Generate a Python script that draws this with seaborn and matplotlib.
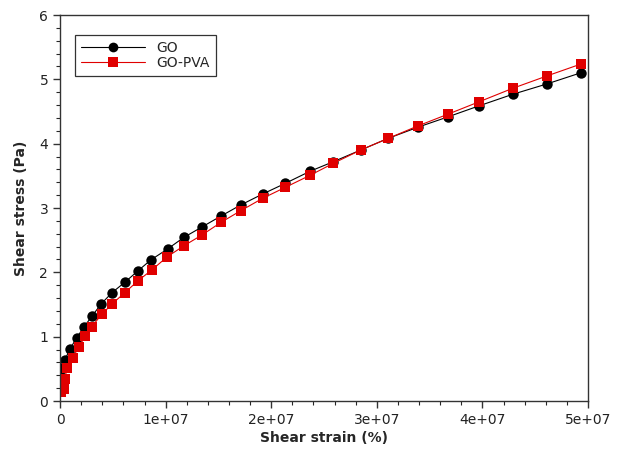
import numpy as np
import pandas as pd
import matplotlib
matplotlib.use("Agg")
import matplotlib.pyplot as plt
import seaborn as sns
from matplotlib.ticker import AutoMinorLocator, MultipleLocator

# -----------------------------
# Data (strain in %, stress in Pa)
# -----------------------------
go_strain = [0.09e6, 0.30e6, 0.445e6, 0.97e6, 1.59e6, 2.30e6, 3.03e6, 3.91e6, 4.92e6,
             6.13e6, 7.36e6, 8.59e6, 10.18e6, 11.74e6, 13.48e6, 15.25e6, 17.11e6,
             19.19e6, 21.34e6, 23.67e6, 25.88e6, 28.48e6, 31.09e6, 33.87e6, 36.77e6,
             39.71e6, 42.87e6, 46.09e6, 49.34e6]
go_stress = [0.38, 0.52, 0.637, 0.816, 0.987, 1.158, 1.321, 1.512, 1.684, 1.845, 2.021,
             2.192, 2.363, 2.545, 2.709, 2.876, 3.047, 3.218, 3.384, 3.571, 3.720,
             3.902, 4.084, 4.255, 4.419, 4.590, 4.768, 4.928, 5.103]

pva_strain = [0.09e6, 0.35e6, 0.45e6, 0.66e6, 1.20e6, 1.77e6, 2.40e6, 3.00e6, 3.95e6,
              4.95e6, 6.13e6, 7.39e6, 8.68e6, 10.16e6, 11.74e6, 13.48e6, 15.25e6,
              17.11e6, 19.19e6, 21.34e6, 23.67e6, 25.88e6, 28.48e6, 31.09e6, 33.87e6,
              36.77e6, 39.71e6, 42.87e6, 46.09e6, 49.34e6]
pva_stress = [0.14, 0.18, 0.34, 0.51, 0.67, 0.84, 1.01, 1.155, 1.348, 1.512, 1.684,
              1.870, 2.036, 2.243, 2.414, 2.585, 2.778, 2.958, 3.151, 3.322, 3.508,
              3.695, 3.902, 4.084, 4.275, 4.461, 4.653, 4.861, 5.052, 5.239]

df = pd.concat([
    pd.DataFrame({"strain": go_strain, "stress": go_stress, "sample": "GO"}),
    pd.DataFrame({"strain": pva_strain, "stress": pva_stress, "sample": "GO-PVA"}),
])

# -----------------------------
# Plot
# -----------------------------
sns.set_style("ticks")
plt.rcParams["font.family"] = ["DejaVu Sans"]

fig = plt.figure(figsize=(6.19, 4.62), dpi=100)
ax = fig.add_axes([0.097, 0.132, 0.853, 0.8355])

sns.lineplot(data=df, x="strain", y="stress", hue="sample", style="sample",
             palette={"GO": "black", "GO-PVA": "#e00000"},
             markers={"GO": "o", "GO-PVA": "s"}, dashes=False,
             markersize=7.5, markeredgewidth=0, linewidth=0.8,
             sort=False, estimator=None, ax=ax)

ax.set_xlim(0, 5e7)
ax.set_ylim(0, 6)
ax.xaxis.set_major_locator(MultipleLocator(1e7))
ax.yaxis.set_major_locator(MultipleLocator(1))
ax.xaxis.set_minor_locator(AutoMinorLocator(5))
ax.yaxis.set_minor_locator(AutoMinorLocator(5))
ax.set_xticks([0, 1e7, 2e7, 3e7, 4e7, 5e7])
ax.set_xticklabels(["0", "1e+07", "2e+07", "3e+07", "4e+07", "5e+07"])
ax.tick_params(which="major", direction="out", length=5, width=1, labelsize=10,
               colors="#333333", labelcolor="#222222", top=False, right=False)
ax.tick_params(which="minor", direction="out", length=3, width=0.8, top=False, right=False)
for s in ax.spines.values():
    s.set_linewidth(1)
    s.set_color("#333333")

ax.set_xlabel("Shear strain (%)", fontsize=10, fontweight="bold", labelpad=3)
ax.set_ylabel("Shear stress (Pa)", fontsize=10, fontweight="bold", labelpad=8)

leg = ax.legend(loc="upper left", bbox_to_anchor=(0.028, 0.948), borderaxespad=0,
                fontsize=10, frameon=True, fancybox=False, edgecolor="black",
                handlelength=4.6, borderpad=0.45, labelspacing=0.05, title=None)
leg.get_frame().set_linewidth(0.9)
for h in leg.legend_handles:
    h.set_markersize(7)

fig.savefig("out.png", dpi=100)
